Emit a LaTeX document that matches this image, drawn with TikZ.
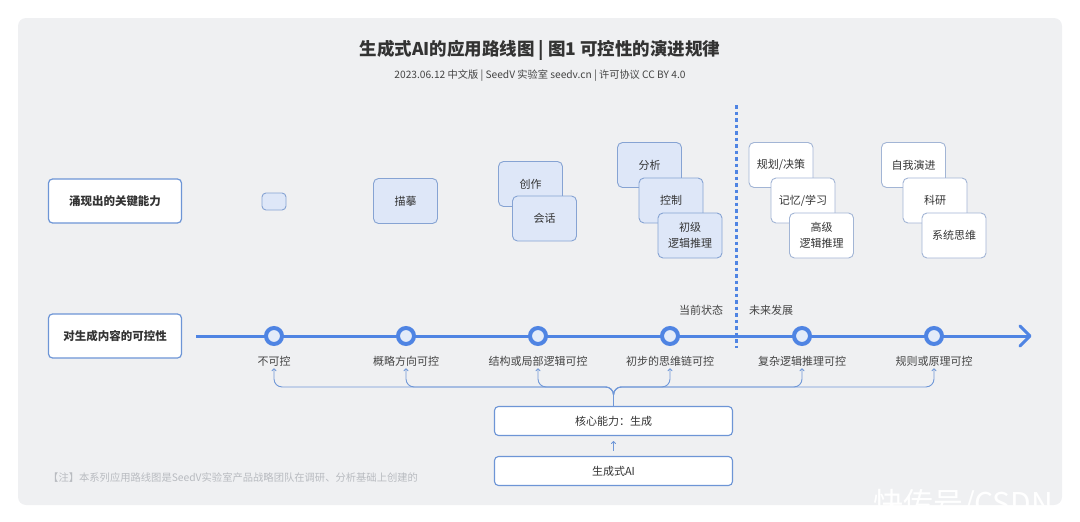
\documentclass[tikz,border=0pt]{standalone}
\usepackage{fontspec}
\setmainfont{Noto Sans CJK SC}
\usetikzlibrary{arrows.meta}
\definecolor{bg}{HTML}{EFF0F2}
\definecolor{mainblue}{HTML}{4F84E3}
\definecolor{capborder}{HTML}{6D95D6}
\definecolor{boxborder}{HTML}{86A3D3}
\definecolor{boxfill}{HTML}{DEE7F8}
\definecolor{futborder}{HTML}{A2B5D5}
\definecolor{tickfill}{HTML}{E3EBF9}
\definecolor{txt}{HTML}{333333}
\definecolor{lbl}{HTML}{444444}
\definecolor{notegray}{HTML}{B8BBC0}
\definecolor{dotblue}{HTML}{4F84E3}
\definecolor{thinblue}{HTML}{7098D8}
\begin{document}
\begin{tikzpicture}[x=1pt,y=-1pt,
  capbox/.style={draw=capborder, line width=1.2pt, fill=white, rounded corners=4pt,
    minimum width=133pt, minimum height=44pt, text=txt, inner sep=0pt,
    font=\fontsize{11.5}{14}\selectfont\bfseries},
  pastbox/.style={draw=boxborder, line width=0.9pt, fill=boxfill, rounded corners=5pt,
    minimum width=64pt, minimum height=45pt, text=txt, inner sep=0pt, align=center,
    font=\fontsize{11}{16}\selectfont},
  futbox/.style={pastbox, fill=white, draw=futborder},
  tick/.style={circle, draw=mainblue, line width=4pt, fill=tickfill,
    minimum size=16pt, inner sep=0pt},
  tlabel/.style={text=lbl, font=\fontsize{11}{13}\selectfont, inner sep=1pt},
  corebox/.style={draw=capborder, line width=1.1pt, fill=white, rounded corners=4pt,
    minimum width=238pt, minimum height=29pt, text=txt, inner sep=0pt,
    font=\fontsize{11}{13}\selectfont},
  bus/.style={draw=thinblue, line width=0.9pt, rounded corners=8pt,
    -{To[length=3pt,width=5pt]}, shorten >=1pt},
]
\useasboundingbox (0,0) rectangle (1080,522);
\fill[bg, rounded corners=8pt] (18,18) rectangle (1062,505);

% title
\node[text=txt, font=\fontsize{17.5}{20}\selectfont\bfseries] (title) at (540,50)
  {生成式AI的应用路线图 | 图1 可控性的演进规律};
\node[text=lbl, font=\fontsize{10.2}{12}\selectfont] (sub) at (540,76)
  {2023.06.12 中文版 | SeedV 实验室 seedv.cn | 许可协议 CC BY 4.0};

% divider
\coordinate (dtop) at (736,105);
\coordinate (dbot) at (736,348);
\draw[dotblue, line width=3pt, dash pattern=on 3.5pt off 3pt] (dtop) -- (dbot);

% capability row
\node[capbox] (cap) at (115,201) {涌现出的关键能力};
\node[pastbox, minimum width=24pt, minimum height=17pt, rounded corners=4pt] (e0) at (274,201.5) {};
\node[pastbox] (e1) at (405.5,201) {描摹};
\node[pastbox] (e2a) at (530.5,184) {创作};
\node[pastbox] (e2b) at (544.5,218.5) {会话};
\node[pastbox] (e3a) at (649.5,165) {分析};
\node[pastbox] (e3b) at (671,200.5) {控制};
\node[pastbox] (e3c) at (690,235.5) {初级\\逻辑推理};
\node[futbox] (f1a) at (781,165) {规划/决策};
\node[futbox] (f1b) at (803,200.5) {记忆/学习};
\node[futbox] (f1c) at (821.5,235.5) {高级\\逻辑推理};
\node[futbox] (f2a) at (913.5,165) {自我演进};
\node[futbox] (f2b) at (935,200.5) {科研};
\node[futbox] (f2c) at (954,235.5) {系统思维};

% controllability row
\node[capbox] (ctl) at (115,336) {对生成内容的可控性};
\coordinate (tlstart) at (196,336);
\coordinate (tlend) at (1030,336);
\draw[mainblue, line width=3pt] (tlstart) -- (tlend);
\draw[mainblue, line width=3pt, line cap=round, line join=round]
  ([shift={(-10,-10)}]tlend) -- (tlend) -- ([shift={(-10,10)}]tlend);

\foreach \i/\x in {1/274,2/406,3/538,4/670,5/802,6/934}{
  \node[tick] (c\i) at (\x,336) {};
}
\node[tlabel] (l1) at (274,361) {不可控};
\node[tlabel] (l2) at (406,361) {概略方向可控};
\node[tlabel] (l3) at (538,361) {结构或局部逻辑可控};
\node[tlabel] (l4) at (670,361) {初步的思维链可控};
\node[tlabel] (l5) at (802,361) {复杂逻辑推理可控};
\node[tlabel] (l6) at (934,361) {规则或原理可控};

\node[tlabel] (now) at (701,310) {当前状态};
\node[tlabel] (fut) at (771,310) {未来发展};

% core boxes
\node[corebox] (core) at (613.5,421) {核心能力：生成};
\node[corebox] (ai) at (613.5,471) {生成式AI};

\foreach \i in {1,...,6}{
  \draw[bus] (core.north) -- ++(0,-19) -| (l\i.south);
}
\draw[draw=thinblue, line width=0.9pt, -{To[length=3pt,width=5pt]}, shorten <=5pt, shorten >=5pt]
  (ai.north) -- (core.south);

% note
\node[anchor=west, text=notegray, font=\fontsize{10.3}{12}\selectfont, inner sep=0pt] (note) at (48,478)
  {【注】本系列应用路线图是SeedV实验室产品战略团队在调研、分析基础上创建的};

% watermark
\node[anchor=base west, text=white, font=\fontsize{30}{30}\selectfont, inner sep=0pt] (wm) at (873,514)
  {快传号/CSDN};
\end{tikzpicture}
\end{document}
